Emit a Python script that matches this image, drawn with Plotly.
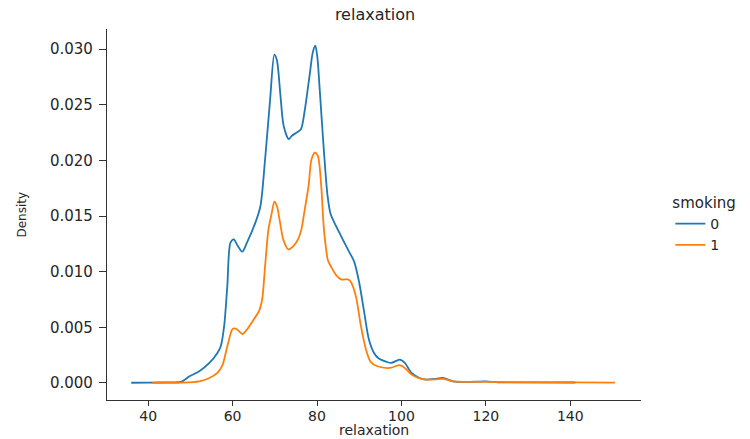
import plotly.graph_objects as go

# ---- data ----
blue_x = [36, 40, 45, 47.8, 49.8, 52.1, 54.5, 56.4, 57.2, 58, 58.75, 59.5, 60.3, 61.1, 62.3, 63.4, 65.4, 66.6, 67.7, 68.9,
          69.9, 70.5, 71.3, 72.1, 73.3, 74, 75.2, 76.2, 77.1, 78.3, 79.0, 79.6, 80.1, 80.6, 81.6, 82.5, 83.2, 84, 85.7, 87.3, 88.8,
          90, 91.2, 92.3, 93.5, 94.5, 96.5, 97.6, 99.6, 100.8, 102.4, 104.3, 105.9, 107.8, 109.8, 112.2, 115.3, 120, 123, 130, 141.2]
blue_y = [0.00002, 0.00003, 0.00006, 0.0001, 0.0006, 0.00105, 0.0018, 0.0027, 0.0033, 0.0051, 0.0087, 0.0126, 0.0129, 0.0124, 0.0118, 0.0126, 0.0144, 0.0159, 0.0201, 0.0255,
          0.0295, 0.0290, 0.0260, 0.0231, 0.0219, 0.0222, 0.0225, 0.0228, 0.0245, 0.0278, 0.0297, 0.0303, 0.0292, 0.0266, 0.0210, 0.0168, 0.0152, 0.0145, 0.0132, 0.0120, 0.0109,
          0.0090, 0.0063, 0.0039, 0.0027, 0.00225, 0.0019, 0.0018, 0.0021, 0.0018, 0.0009, 0.00045, 0.0003, 0.00036, 0.00045, 0.00015, 0.0001, 0.00015, 0.00006, 0.00005, 0.00004]

orange_x = [41, 45, 48.2, 52.1, 54.5, 56.4, 57.6, 58.75, 59.9, 60.3, 61.1, 62.3, 63.4, 65, 66.2, 67, 67.7, 68.5, 69.3, 69.9,
            70.5, 71.25, 72, 73.2, 74.4, 75.5, 76.3, 77.1, 78, 78.7, 79.5, 80.2, 81, 81.5, 82, 82.6, 83.4, 84.5, 85.7, 87.3,
            88, 89.2, 90.4, 91.6, 92.7, 94.3, 97.3, 99.6, 100.8, 102.4, 104.7, 106.7, 109.8, 112.5, 120, 130, 141.2, 150.6]
orange_y = [0.00001, 0.00002, 0.00003, 0.00015, 0.00045, 0.0009, 0.0016, 0.0033, 0.0048, 0.0049, 0.0048, 0.0044, 0.0048, 0.0057, 0.0064, 0.0075, 0.0105, 0.0138, 0.0153, 0.0163,
            0.0159, 0.0144, 0.0129, 0.0120, 0.0123, 0.0129, 0.0138, 0.0156, 0.0177, 0.0201, 0.0207, 0.0204, 0.0177, 0.0145, 0.0125, 0.0110, 0.0104, 0.0097, 0.0093, 0.0093,
            0.0091, 0.0078, 0.0051, 0.0030, 0.0019, 0.0015, 0.00135, 0.0016, 0.00135, 0.00075, 0.00036, 0.0003, 0.00036, 0.00015, 0.0001, 0.00005, 0.00006, 0.00003]

series_names = ["0", "1"]
x_ticks = [40, 60, 80, 100, 120, 140]
y_ticks = [0.000, 0.005, 0.010, 0.015, 0.020, 0.025, 0.030]

TEXT = "#262626"
FONT = "DejaVu Sans"

fig = go.Figure()
fig.add_trace(go.Scatter(x=blue_x, y=blue_y, mode="lines", name=series_names[0],
                         line=dict(color="#1f77b4", width=1.8, shape="spline", smoothing=0.8)))
fig.add_trace(go.Scatter(x=orange_x, y=orange_y, mode="lines", name=series_names[1],
                         line=dict(color="#ff7f0e", width=1.8, shape="spline", smoothing=0.8)))

fig.update_layout(
    width=750, height=439,
    margin=dict(l=107, r=107, t=29, b=39),
    paper_bgcolor="white", plot_bgcolor="white",
    font=dict(family=FONT, size=14, color=TEXT),
    title=dict(text="relaxation", x=0.5, xanchor="center", y=0.967, yanchor="middle",
               font=dict(family=FONT, size=16, color=TEXT)),
    showlegend=True,
    legend=dict(title=dict(text="smoking", side="top", font=dict(size=15)),
                x=1.055, xanchor="left", y=0.57, yanchor="top",
                font=dict(size=14), bgcolor="rgba(0,0,0,0)", tracegroupgap=0),
    xaxis=dict(range=[30.25, 156.75], tickvals=x_ticks, ticktext=[str(v) for v in x_ticks],
               showgrid=False, zeroline=False, showline=True, linecolor="#333333", linewidth=1.2,
               ticks="outside", ticklen=5, tickcolor="#333333", tickfont=dict(size=14),
               ticklabelstandoff=-2, automargin=False),
    yaxis=dict(range=[-0.00153, 0.0318], tickvals=y_ticks, ticktext=["%.3f" % v for v in y_ticks],
               showgrid=False, zeroline=False, showline=True, linecolor="#333333", linewidth=1.2,
               ticks="outside", ticklen=7, tickcolor="#333333", tickfont=dict(size=15),
               ticklabelstandoff=3, automargin=False),
    annotations=[
        dict(text="relaxation", xref="paper", yref="paper", x=0.5, y=-0.081,
             xanchor="center", yanchor="middle", showarrow=False,
             font=dict(family=FONT, size=14, color=TEXT)),
        dict(text="Density", xref="paper", yref="paper", x=-0.161, y=0.5,
             xanchor="center", yanchor="middle", showarrow=False, textangle=-90,
             font=dict(family=FONT, size=12, color=TEXT)),
    ],
)

fig.write_html("out.html")
